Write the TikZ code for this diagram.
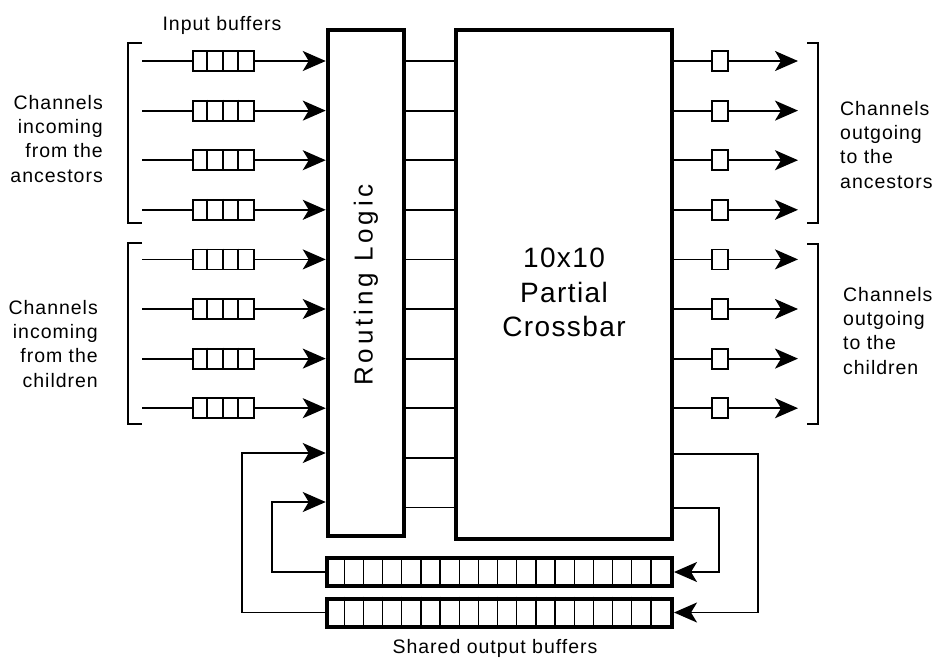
\documentclass[tikz,border=0pt]{standalone}
\usepackage{fontspec}
\setmainfont{Liberation Sans}[LetterSpace=5]
\usetikzlibrary{arrows.meta}

\tikzset{
  box/.style={draw, line width=4.5pt, inner sep=0pt},
  ibuf/.style={draw, line width=1.8pt, fill=white, minimum width=61pt, minimum height=20pt, inner sep=0pt},
  obuf/.style={draw, line width=1.8pt, fill=white, minimum width=16pt, minimum height=20pt, inner sep=0pt},
  sbuf/.style={draw, line width=4pt, minimum width=345pt, minimum height=28pt, inner sep=0pt},
  wire/.style={line width=1.8pt},
  chan/.style={line width=1.8pt, -{Stealth[length=23pt,width=20pt,inset=6pt]}},
  brk/.style={line width=1.3pt},
  lbl/.style={inner sep=0pt, font=\fontsize{19.5}{24.3}\selectfont},
}

\begin{document}
\begin{tikzpicture}[x=1pt,y=-1pt]
\useasboundingbox (0,0) rectangle (935,657);

\node[box, minimum width=76pt, minimum height=506pt] (route) at (366,283) {};
\node[box, minimum width=216pt, minimum height=509pt] (xbar) at (564,284.5) {};
\node[rotate=90, font=\fontsize{26}{30}\selectfont\addfontfeatures{LetterSpace=15}] (routetext) at ([yshift=-2pt]route.center) {Routing Logic};
\node[align=center, font=\fontsize{28}{34.5}\selectfont] (xbartext) at ([yshift=-8pt]xbar.center) {10x10\\Partial\\Crossbar};

% rows between the two blocks
\foreach \i in {0,...,9} {
  \coordinate (r\i) at (0,61+\i*49.6);
  \draw[wire] (route.east |- r\i) -- (xbar.west |- r\i);
}

% incoming channels with input buffers
\foreach \i in {0,...,7} {
  \coordinate (src\i) at (142,61+\i*49.6);
  \node[ibuf] (ib\i) at (223.5,61+\i*49.6) {};
  \foreach \k in {1,2,3}
    \draw[line width=1.8pt] ([xshift=\k*15.25pt]ib\i.north west) -- ([xshift=\k*15.25pt]ib\i.south west);
  \draw[wire] (src\i) -- (ib\i);
  \draw[chan] (ib\i) -- (route.west |- ib\i);
}

% outgoing channels
\foreach \i in {0,...,7} {
  \coordinate (dst\i) at (798,61+\i*49.6);
  \node[obuf] (ob\i) at (720,61+\i*49.6) {};
  \draw[wire] (xbar.east |- ob\i) -- (ob\i);
  \draw[chan] (ob\i) -- (dst\i);
}

% shared output buffers
\node[sbuf] (sb1) at (499.5,572) {};
\node[sbuf] (sb2) at (499.5,612.5) {};
\foreach \k in {1,...,17} {
  \draw[line width=1.3pt] ([xshift=\k*19.17pt]sb1.north west) -- ([xshift=\k*19.17pt]sb1.south west);
  \draw[line width=1.3pt] ([xshift=\k*19.17pt]sb2.north west) -- ([xshift=\k*19.17pt]sb2.south west);
}

% feedback loops
\coordinate (fb1) at (272,502);
\coordinate (fb2) at (242,453);
\draw[chan] (sb1.west) -| (fb1) -- (route.west |- fb1);
\draw[chan] (sb2.west) -| (fb2) -- (route.west |- fb2);
\coordinate (lp1) at (758,454);
\coordinate (lp2) at (719,508);
\draw[chan] (xbar.east |- lp1) -- (lp1) |- (sb2.east);
\draw[chan] (xbar.east |- lp2) -- (lp2) |- (sb1.east);

% brackets
\draw[brk] (142,43) -| (128,223) -- (142,223);
\draw[brk] (142,243) -| (128,424) -- (142,424);
\draw[brk] (807,43) -| (818,223) -- (807,223);
\draw[brk] (807,244) -| (818,424) -- (807,424);

\node[lbl, anchor=base] (inlbl) at (222,30) {Input buffers};
\node[lbl, anchor=base] (sharedlbl) at (495,653) {Shared output buffers};
\node[lbl, align=right, anchor=north east] (ancin) at (103,95) {Channels\\incoming\\from the\\ancestors};
\node[lbl, align=right, anchor=north east] (chin) at (98,300) {Channels\\incoming\\from the\\children};
\node[lbl, align=left, anchor=north west] (ancout) at (840,101) {Channels\\outgoing\\to the\\ancestors};
\node[lbl, align=left, anchor=north west] (chout) at (843,287) {Channels\\outgoing\\to the\\children};
\end{tikzpicture}
\end{document}
